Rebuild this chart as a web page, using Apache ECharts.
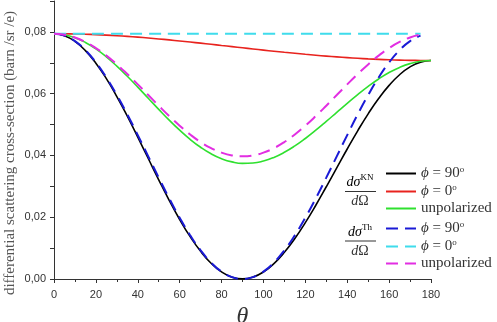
<!DOCTYPE html>
<html>
<head>
<meta charset="utf-8">
<script src="https://cdn.jsdelivr.net/npm/echarts@6/dist/echarts.min.js"></script>
<style>
html, body { margin: 0; padding: 0; background: #fff; }
#main { width: 497px; height: 322px; }
</style>
</head>
<body>
<div id="main"></div>
<script>
// scattering angle (degrees)
var theta = [0, 5, 10, 15, 20, 25, 30, 35, 40, 45, 50, 55, 60, 65, 70, 75, 80, 85, 90,
  95, 100, 105, 110, 115, 120, 125, 130, 135, 140, 145, 150, 155, 160, 165, 170, 175, 180]

// Klein-Nishina
var knPhi90 = [0.07940, 0.07878, 0.07694, 0.07393, 0.06986, 0.06485, 0.05907, 0.05270, 0.04594,
  0.03901, 0.03212, 0.02547, 0.01927, 0.01371, 0.00895, 0.00511, 0.00230, 0.00060, 0.00003,
  0.00061, 0.00228, 0.00499, 0.00864, 0.01310, 0.01824, 0.02388, 0.02986, 0.03599, 0.04209,
  0.04798, 0.05347, 0.05842, 0.06268, 0.06613, 0.06866, 0.07021, 0.07073]
var knPhi0 = [0.07940, 0.07938, 0.07933, 0.07924, 0.07911, 0.07895, 0.07876, 0.07854, 0.07829,
  0.07802, 0.07772, 0.07740, 0.07706, 0.07671, 0.07635, 0.07598, 0.07560, 0.07523, 0.07485,
  0.07447, 0.07410, 0.07374, 0.07339, 0.07306, 0.07274, 0.07244, 0.07216, 0.07190, 0.07166,
  0.07145, 0.07126, 0.07110, 0.07097, 0.07087, 0.07079, 0.07075, 0.07073]
var knUnpol = [0.07940, 0.07908, 0.07813, 0.07658, 0.07449, 0.07190, 0.06892, 0.06562, 0.06212,
  0.05851, 0.05492, 0.05143, 0.04817, 0.04521, 0.04265, 0.04054, 0.03895, 0.03791, 0.03744,
  0.03754, 0.03819, 0.03937, 0.04102, 0.04308, 0.04549, 0.04816, 0.05101, 0.05395, 0.05688,
  0.05971, 0.06237, 0.06476, 0.06683, 0.06850, 0.06973, 0.07048, 0.07073]

// Thomson (drawn up to 175 degrees)
var thPhi90 = [0.07940, 0.07880, 0.07701, 0.07408, 0.07011, 0.06522, 0.05955, 0.05328, 0.04659,
  0.03970, 0.03281, 0.02612, 0.01985, 0.01418, 0.00929, 0.00532, 0.00239, 0.00060, 0.00000,
  0.00060, 0.00239, 0.00532, 0.00929, 0.01418, 0.01985, 0.02612, 0.03281, 0.03970, 0.04659,
  0.05328, 0.05955, 0.06522, 0.07011, 0.07408, 0.07701, 0.07880]
var thPhi0 = [0.0794, 0.0794, 0.0794, 0.0794, 0.0794, 0.0794, 0.0794, 0.0794, 0.0794,
  0.0794, 0.0794, 0.0794, 0.0794, 0.0794, 0.0794, 0.0794, 0.0794, 0.0794, 0.0794,
  0.0794, 0.0794, 0.0794, 0.0794, 0.0794, 0.0794, 0.0794, 0.0794, 0.0794, 0.0794,
  0.0794, 0.0794, 0.0794, 0.0794, 0.0794, 0.0794, 0.0794]
var thUnpol = [0.07940, 0.07910, 0.07820, 0.07674, 0.07476, 0.07231, 0.06948, 0.06634, 0.06300,
  0.05955, 0.05610, 0.05276, 0.04963, 0.04679, 0.04434, 0.04236, 0.04090, 0.04000, 0.03970,
  0.04000, 0.04090, 0.04236, 0.04434, 0.04679, 0.04963, 0.05276, 0.05610, 0.05955, 0.06300,
  0.06634, 0.06948, 0.07231, 0.07476, 0.07674, 0.07820, 0.07910]

var labels = {
  kn90: '{i|ϕ} = 90{s|o}',
  kn0: '{i|ϕ} = 0{s|o}',
  knU: 'unpolarized',
  th90: '{i|ϕ} = 90{s|o}',
  th0: '{i|ϕ} = 0{s|o}',
  thU: 'unpolarized'
}

function pairs (ys) {
  return ys.map(function (y, i) { return [theta[i], y] })
}

var serif = 'Liberation Serif'
var fracRich = {
  i: { fontFamily: serif, fontStyle: 'italic', fontSize: 14, color: '#333' },
  s: { fontFamily: serif, fontSize: 9, color: '#333', padding: [0, 0, 9, 0] }
}
var legendText = {
  fontFamily: serif,
  fontSize: 15,
  color: '#333',
  lineHeight: 15,
  rich: {
    i: { fontFamily: serif, fontStyle: 'italic', fontSize: 15, color: '#333' },
    s: { fontFamily: serif, fontSize: 9, color: '#333', padding: [0, 0, 8, 0] }
  }
}

function line (name, data, color, dashed) {
  return {
    name: name,
    type: 'line',
    data: pairs(data),
    smooth: true,
    symbol: 'none',
    lineStyle: { color: color, width: dashed ? 2 : 1.6, type: dashed ? [12, 7] : 'solid' },
    itemStyle: { color: color }
  }
}

function legendBox (top, names) {
  return {
    orient: 'vertical',
    left: 385,
    top: top,
    padding: 0,
    itemWidth: 30,
    itemHeight: 12,
    itemGap: 2,
    data: names,
    itemStyle: { color: 'transparent', borderWidth: 0, opacity: 0 },
    formatter: function (n) { return labels[n] },
    textStyle: legendText
  }
}

var chart = echarts.init(document.getElementById('main'))
chart.setOption({
  animation: false,
  grid: { left: 54, right: 66, top: 1, bottom: 43, outerBoundsMode: 'none' },
  xAxis: {
    type: 'value',
    min: 0,
    max: 180,
    interval: 20,
    name: 'θ',
    nameLocation: 'middle',
    nameGap: 19,
    nameTextStyle: { fontFamily: serif, fontStyle: 'italic', fontSize: 24, color: '#333' },
    axisLine: { show: true, onZero: false, lineStyle: { color: '#333', width: 1 } },
    axisTick: { show: true, length: 4, lineStyle: { color: '#333' } },
    minorTick: { show: true, splitNumber: 2, length: 3, lineStyle: { color: '#333' } },
    axisLabel: { fontFamily: 'Liberation Sans', fontSize: 11, color: '#333', margin: 10 },
    splitLine: { show: false }
  },
  yAxis: {
    type: 'value',
    min: 0,
    max: 0.09,
    interval: 0.01,
    axisLine: { show: true, onZero: false, lineStyle: { color: '#333', width: 1 } },
    axisTick: { show: true, length: 4, lineStyle: { color: '#333' } },
    axisLabel: {
      fontFamily: 'Liberation Sans',
      fontSize: 11,
      color: '#333',
      margin: 8,
      formatter: function (v) {
        var h = Math.round(v * 100)
        if (h % 2 !== 0) return ''
        return (h / 100).toFixed(2).replace('.', ',')
      }
    },
    splitLine: { show: false }
  },
  legend: [
    legendBox(165, ['kn90', 'kn0', 'knU']),
    legendBox(220, ['th90', 'th0', 'thU'])
  ],
  graphic: [
    {
      type: 'text',
      x: 10,
      y: 153,
      rotation: Math.PI / 2,
      style: {
        text: 'differential scattering cross-section (barn /sr /e)',
        fontFamily: serif,
        fontSize: 15,
        fill: '#555',
        align: 'center',
        verticalAlign: 'middle'
      }
    },
    {
      type: 'text',
      x: 360,
      y: 182,
      style: { text: '{i|dσ}{s|KN}', align: 'center', verticalAlign: 'middle', rich: fracRich }
    },
    { type: 'line', shape: { x1: 345, y1: 191.5, x2: 376, y2: 191.5 }, style: { stroke: '#333', lineWidth: 1 } },
    {
      type: 'text',
      x: 360,
      y: 201,
      style: { text: '{i|d}Ω', align: 'center', verticalAlign: 'middle', fontFamily: serif, fontSize: 14, fill: '#333', rich: fracRich }
    },
    {
      type: 'text',
      x: 360,
      y: 232,
      style: { text: '{i|dσ}{s|Th}', align: 'center', verticalAlign: 'middle', rich: fracRich }
    },
    { type: 'line', shape: { x1: 345, y1: 241, x2: 376, y2: 241 }, style: { stroke: '#333', lineWidth: 1 } },
    {
      type: 'text',
      x: 360,
      y: 251.5,
      style: { text: '{i|d}Ω', align: 'center', verticalAlign: 'middle', fontFamily: serif, fontSize: 14, fill: '#333', rich: fracRich }
    }
  ],
  series: [
    line('kn90', knPhi90, '#000000', false),
    line('kn0', knPhi0, '#e8231e', false),
    line('knU', knUnpol, '#2fe02f', false),
    line('th90', thPhi90, '#1a1ad6', true),
    line('th0', thPhi0, '#3fdcec', true),
    line('thU', thUnpol, '#e22ee2', true)
  ]
})
</script>
</body>
</html>
